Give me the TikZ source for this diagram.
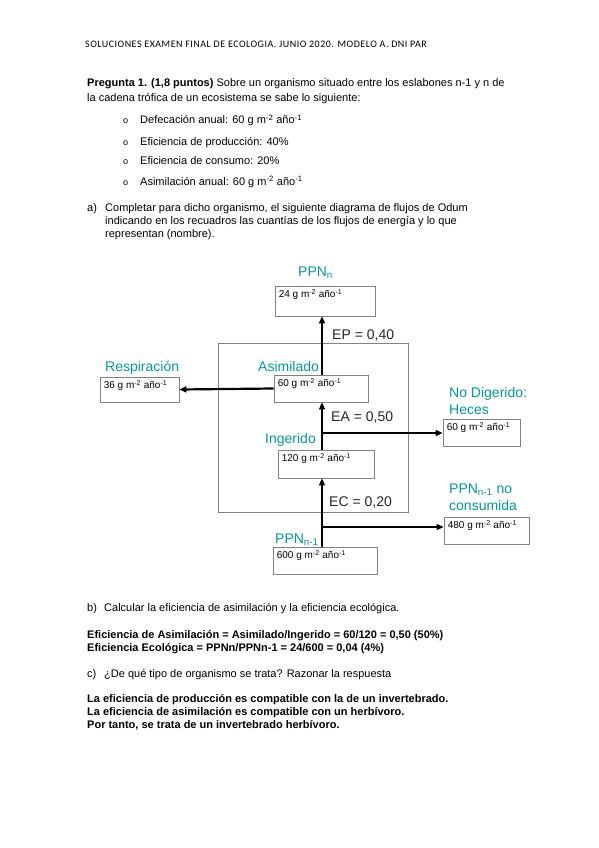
\documentclass[tikz,border=0pt]{standalone}
\usepackage{fontspec}
\setmainfont{Liberation Sans}
\newfontfamily\headfont[LetterSpace=5]{Carlito}
\usetikzlibrary{arrows.meta}
\definecolor{odumteal}{RGB}{0,155,155}
\definecolor{boxgray}{RGB}{130,130,130}
\tikzset{
  valbox/.style={draw=boxgray, line width=0.8pt, inner sep=0pt},
  valtext/.style={font=\fontsize{10}{12}\selectfont, anchor=north west, inner xsep=4pt, inner ysep=3.5pt},
  flowname/.style={text=odumteal, font=\fontsize{14}{17}\selectfont, anchor=base west, inner sep=0pt},
  effname/.style={text=black!85, font=\fontsize{14}{17}\selectfont, anchor=base west, inner sep=0pt},
  flow/.style={line width=2.2pt, -{Triangle[length=7pt,width=6pt]}},
  bodyline/.style={font=\fontsize{11}{13}\selectfont, anchor=base west, inner sep=0pt},
}
\newcommand{\gma}[1]{#1 g m\textsuperscript{-2} año\textsuperscript{-1}}

\begin{document}
\begin{tikzpicture}[x=1pt, y=-1pt]
    \useasboundingbox[fill=white] (0,0) rectangle (599,848);

    % Header
    \node[anchor=base west, inner sep=0pt, font=\headfont\fontsize{10}{12}\selectfont] (header) at (85,48)
        {SOLUCIONES EXAMEN FINAL DE ECOLOGIA. JUNIO 2020. MODELO A. DNI PAR};

    % Statement
    \node[bodyline] (stmtA) at (87,87) {\textbf{Pregunta 1. (1,8 puntos)} Sobre un organismo situado entre los eslabones n-1 y n de};
    \node[bodyline] (stmtB) at (87,102) {la cadena trófica de un ecosistema se sabe lo siguiente:};

    \foreach \yy/\txt in {124/{Defecación anual: \gma{60}},
                          145/{Eficiencia de producción: 40\%},
                          164/{Eficiencia de consumo: 20\%},
                          185/{Asimilación anual: \gma{60}}} {
        \node[bodyline, font=\fontsize{9}{11}\selectfont] at (123,\yy) {o};
        \node[bodyline] at (140,\yy) {\txt};
    }

    \node[bodyline] (partA) at (87,211) {a)};
    \node[bodyline] (partAa) at (105,211) {Completar para dicho organismo, el siguiente diagrama de flujos de Odum};
    \node[bodyline] (partAb) at (105,224) {indicando en los recuadros las cuantías de los flujos de energía y lo que};
    \node[bodyline] (partAc) at (105,237) {representan (nombre).};

    % Odum diagram
    \draw[boxgray, line width=0.8pt] (218,343) rectangle (408,512);

    \node[valbox, minimum width=100pt, minimum height=30pt] (ppnn) at (325,301) {};
    \node[valbox, minimum width=94pt, minimum height=27pt] (asim) at (321,388.5) {};
    \node[valbox, minimum width=79pt, minimum height=25pt] (resp) at (139.5,389.5) {};
    \node[valbox, minimum width=96pt, minimum height=28pt] (inger) at (326,464) {};
    \node[valbox, minimum width=77pt, minimum height=27pt] (heces) at (481.5,432.5) {};
    \node[valbox, minimum width=85pt, minimum height=27pt] (nocons) at (486.5,530.5) {};
    \node[valbox, minimum width=104pt, minimum height=27pt] (ppnprev) at (325,560.5) {};

    \node[valtext] at (ppnn.north west) {\gma{24}};
    \node[valtext] at (asim.north west) {\gma{60}};
    \node[valtext] at (resp.north west) {\gma{36}};
    \node[valtext] at (inger.north west) {\gma{120}};
    \node[valtext] at (heces.north west) {\gma{60}};
    \node[valtext] at (nocons.north west) {\gma{480}};
    \node[valtext] at (ppnprev.north west) {\gma{600}};

    \node[flowname] (lblppnn) at (298,276) {PPN\textsubscript{n}};
    \node[flowname] (lblresp) at (105,371) {Respiración};
    \node[flowname] (lblasim) at (258,371) {Asimilado};
    \node[flowname] (lblnodig) at (449,397) {No Digerido:};
    \node[flowname] (lblheces) at (449,414) {Heces};
    \node[flowname] (lblinger) at (265,443) {Ingerido};
    \node[flowname] (lblppnno) at (449,493) {PPN\textsubscript{n-1} no};
    \node[flowname] (lblcons) at (449,510) {consumida};
    \node[flowname] (lblppnprev) at (275,543) {PPN\textsubscript{n-1}};

    \node[effname] (ep) at (332,339) {EP = 0,40};
    \node[effname] (ea) at (331,421) {EA = 0,50};
    \node[effname] (ec) at (329,506) {EC = 0,20};

    % flows
    \coordinate (spine) at (322,0);
    \coordinate (hecesfork) at (322,433);
    \coordinate (consfork) at (322,527);
    \draw[flow] (ppnprev.north -| spine) -- (inger.south -| spine);
    \draw[flow] (inger.north -| spine) -- (asim.south -| spine);
    \draw[flow] (asim.north -| spine) -- (ppnn.south -| spine);
    \draw[flow] (asim.west) -- (resp.east);
    \draw[flow] (hecesfork) -- (hecesfork -| heces.west);
    \draw[flow, line width=1.4pt] (consfork) -- (consfork -| nocons.west);

    % Answers
    \node[bodyline] (partB) at (87,611) {b)};
    \node[bodyline] (partBa) at (104,611) {Calcular la eficiencia de asimilación y la eficiencia ecológica.};
    \node[bodyline] (ansA) at (87,638) {\textbf{Eficiencia de Asimilación = Asimilado/Ingerido = 60/120 = 0,50 (50\%)}};
    \node[bodyline] (ansB) at (87,651) {\textbf{Eficiencia Ecológica = PPNn/PPNn-1 = 24/600 = 0,04 (4\%)}};

    \node[bodyline] (partC) at (87,677) {c)};
    \node[bodyline] (partCa) at (104,677) {¿De qué tipo de organismo se trata? Razonar la respuesta};
    \node[bodyline] (ansC) at (87,702) {\textbf{La eficiencia de producción es compatible con la de un invertebrado.}};
    \node[bodyline] (ansD) at (87,715) {\textbf{La eficiencia de asimilación es compatible con un herbívoro.}};
    \node[bodyline] (ansE) at (87,728) {\textbf{Por tanto, se trata de un invertebrado herbívoro.}};
\end{tikzpicture}
\end{document}
